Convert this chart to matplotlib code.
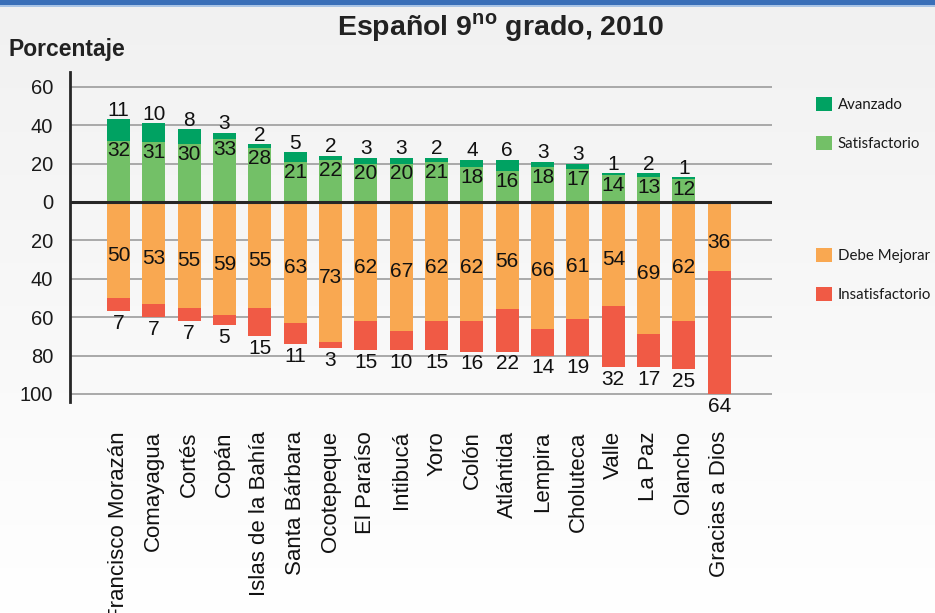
#!/usr/bin/env python3

import numpy as np
import matplotlib
matplotlib.use("Agg")
import matplotlib.pyplot as plt
from matplotlib.patches import Rectangle

# ---------------------------------------------------------------------------
# Data
# ---------------------------------------------------------------------------

title = r"Español 9$^{\mathbf{no}}$ grado, 2010"

departments = ["Francisco Morazán", "Comayagua", "Cortés", "Copán",
               "Islas de la Bahía", "Santa Bárbara", "Ocotepeque", "El Paraíso",
               "Intibucá", "Yoro", "Colón", "Atlántida", "Lempira", "Choluteca",
               "Valle", "La Paz", "Olancho", "Gracias a Dios"]

avanzado        = [11, 10, 8, 3, 2, 5, 2, 3, 3, 2, 4, 6, 3, 3, 1, 2, 1, 0]
satisfactorio   = [32, 31, 30, 33, 28, 21, 22, 20, 20, 21, 18, 16, 18, 17, 14, 13, 12, 0]
debe_mejorar    = [50, 53, 55, 59, 55, 63, 73, 62, 67, 62, 62, 56, 66, 61, 54, 69, 62, 36]
insatisfactorio = [7, 7, 7, 5, 15, 11, 3, 15, 10, 15, 16, 22, 14, 19, 32, 17, 25, 64]

ytick_values = [60, 40, 20, 0, -20, -40, -60, -80, -100]

COLORS = {
    "Avanzado":        "#00a262",
    "Satisfactorio":   "#73c067",
    "Debe Mejorar":    "#f9a851",
    "Insatisfactorio": "#f05a45",
}

plt.rcParams["font.family"] = ["Liberation Sans", "DejaVu Sans"]
plt.rcParams["mathtext.fontset"] = "custom"
plt.rcParams["mathtext.rm"] = "Liberation Sans"
plt.rcParams["mathtext.bf"] = "Liberation Sans:bold"

W, H = 935, 613


def fx(px):
    return px / W


def fy(py):
    return 1 - py / H


# ---------------------------------------------------------------------------
# Figure / background
# ---------------------------------------------------------------------------

fig = plt.figure(figsize=(W / 100, H / 100), dpi=100)

bg = fig.add_axes([0, 0, 1, 1], zorder=-5)
grad = np.linspace(0, 1, 256).reshape(-1, 1)
bg.imshow(grad, aspect="auto", cmap=matplotlib.colors.LinearSegmentedColormap.from_list(
    "bg", ["#f1f1f1", "#ffffff"]), extent=[0, 1, 0, 1])
bg.set_axis_off()

fig.add_artist(Rectangle((0, fy(5)), 1, 5 / H, transform=fig.transFigure,
                         color="#3a6fb8", lw=0, zorder=10))
fig.add_artist(Rectangle((0, fy(6.5)), 1, 1.5 / H, transform=fig.transFigure,
                         color="#a9c4e6", lw=0, zorder=10))

ax = fig.add_axes([fx(70), fy(402), fx(772) - fx(70), fy(72) - fy(402)])
ax.set_facecolor("none")

# ---------------------------------------------------------------------------
# Bars
# ---------------------------------------------------------------------------

x = np.arange(len(departments))
sat = np.array(satisfactorio)
avz = np.array(avanzado)
deb = np.array(debe_mejorar)
ins = np.array(insatisfactorio)
bw = 0.65

b_sat = ax.bar(x, sat, bw, color=COLORS["Satisfactorio"], zorder=2, label="Satisfactorio")
b_avz = ax.bar(x, avz, bw, bottom=sat, color=COLORS["Avanzado"], zorder=2, label="Avanzado")
b_deb = ax.bar(x, -deb, bw, color=COLORS["Debe Mejorar"], zorder=2, label="Debe Mejorar")
b_ins = ax.bar(x, -ins, bw, bottom=-deb, color=COLORS["Insatisfactorio"], zorder=2,
               label="Insatisfactorio")

lab_kw = dict(textcoords="offset points", ha="center", fontsize=15, color="#111111", zorder=5)
for i in x:
    if avz[i]:
        ax.annotate(str(avz[i]), (i, sat[i] + avz[i]), xytext=(0, 2.5), va="baseline", **lab_kw)
    if sat[i]:
        ax.annotate(str(sat[i]), (i, sat[i]), xytext=(0, -7.5), va="center", **lab_kw)
    if deb[i]:
        ax.annotate(str(deb[i]), (i, -deb[i] / 2), xytext=(0, -4), va="center", **lab_kw)
    if ins[i]:
        ax.annotate(str(ins[i]), (i, -deb[i] - ins[i]), xytext=(0, -2), va="top", **lab_kw)

# ---------------------------------------------------------------------------
# Axes styling
# ---------------------------------------------------------------------------

ax.set_xlim(-1.37, len(departments) - 1 + 1.49)
ax.set_ylim(-104.2, 67.7)
ax.set_yticks(ytick_values)
ax.set_yticklabels([str(abs(v)) for v in ytick_values])
ax.tick_params(axis="y", length=0, pad=12, labelsize=14.5, labelcolor="#1a1a1a")
ax.set_xticks(x)
ax.set_xticklabels(departments, rotation=90, va="top", ha="center")
ax.tick_params(axis="x", length=0, pad=21, labelsize=16, labelcolor="#111111")

for v in ytick_values:
    if v != 0:
        ax.axhline(v, color="#a3a3a3", lw=1.3, zorder=1)
ax.axhline(0, color="#262626", lw=2.2, zorder=3)

for side in ["top", "right", "bottom"]:
    ax.spines[side].set_visible(False)
ax.spines["left"].set_color("#262626")
ax.spines["left"].set_linewidth(2.0)

# ---------------------------------------------------------------------------
# Texts and legend
# ---------------------------------------------------------------------------

fig.text(fx(501), fy(36), title, ha="center", va="baseline",
         fontsize=20.5, fontweight="bold", color="#222222")
fig.text(fx(9), fy(56), "Porcentaje", ha="left", va="baseline",
         fontsize=16.5, fontweight="bold", color="#222222")

leg_kw = dict(frameon=False, handlelength=1.05, handleheight=1.1, handletextpad=0.4,
              labelspacing=1.55, borderpad=0, borderaxespad=0,
              prop={"family": ["Lato", "DejaVu Sans"], "size": 10.8})
leg1 = fig.legend([b_avz, b_sat], ["Avanzado", "Satisfactorio"], loc="upper left",
                  bbox_to_anchor=(fx(816), fy(97)), **leg_kw)
leg2 = fig.legend([b_deb, b_ins], ["Debe Mejorar", "Insatisfactorio"], loc="upper left",
                  bbox_to_anchor=(fx(816), fy(248)), **leg_kw)
for leg in (leg1, leg2):
    for t in leg.get_texts():
        t.set_color("#1a1a1a")

fig.savefig("out.png", dpi=100)
